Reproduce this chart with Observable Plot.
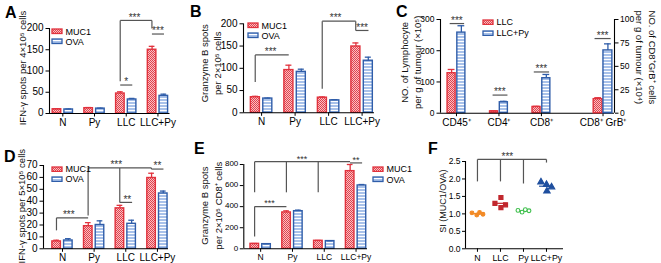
<!DOCTYPE html>
<html><head><meta charset="utf-8">
<script src="https://cdn.jsdelivr.net/npm/d3@7"></script>
<script src="https://cdn.jsdelivr.net/npm/@observablehq/plot@0.6"></script>
<style>
html,body{margin:0;padding:0;background:#fff;}
#fig{position:relative;width:661px;height:263px;overflow:hidden;background:#fff;font-family:"Liberation Sans",Arial,Helvetica,sans-serif;color:#000}
.letter{position:absolute;font-weight:bold;font-size:16px;line-height:1;z-index:10}
.legtxt{position:absolute;font-size:9px;line-height:1;white-space:nowrap;transform:translateY(-50%);z-index:10}
.legsw{position:absolute;z-index:10}
.ytick{position:absolute;line-height:1;white-space:nowrap;text-align:right;transform:translateY(-50%);color:#000;z-index:20;font-family:"Liberation Sans",Arial,Helvetica,sans-serif}
</style></head><body>
<svg width="0" height="0" style="position:absolute">
<defs>
<pattern id="patMUC1" patternUnits="userSpaceOnUse" width="2" height="2">
<rect width="2" height="2" fill="#f7c1c4"/>
<rect width="1" height="1" fill="#e3414c"/>
<rect x="1" y="1" width="1" height="1" fill="#e3414c"/>
</pattern>
<pattern id="patOVA" patternUnits="userSpaceOnUse" width="3" height="3">
<rect width="3" height="3" fill="#ffffff"/>
<rect width="3" height="2" fill="#a9c2ea"/>
</pattern>
</defs></svg>
<div id="fig"></div>
<script>
// ---------------- DATA ----------------
const groups = ["N", "Py", "LLC", "LLC+Py"];
const seriesMO = ["MUC1", "OVA"];
// Panel A: IFN-γ spots per 4×10^5 cells
const aMUC1 = [10, 12.5, 47, 150], aMUC1Err = [1, 1.5, 4, 8];
const aOVA = [9.5, 11.5, 33, 41.5], aOVAErr = [1, 1, 2.5, 4];
// Panel B: Granzyme B spots per 2×10^5 cells
const bMUC1 = [35, 96, 34, 149], bMUC1Err = [2, 11, 1.5, 8];
const bOVA = [32, 92, 28, 117], bOVAErr = [1, 6, 1.5, 8];
// Panel C: lymphocytes per g of tumour
const cSeries = ["LLC", "LLC+Py"];
const cCats = ["CD45⁺", "CD4⁺", "CD8⁺"];
const cLLC = [128, 6, 20], cLLCErr = [12, 1, 2];
const cLLCPy = [258, 35, 112], cLLCPyErr = [22, 3, 12];
const cGrBCat = "CD8⁺ GrB⁺";
const cGrB = [15, 67], cGrBErr = [1.5, 7];   // LLC, LLC+Py (right axis ×10^4)
// Panel D: IFN-γ spots per 5×10^5 cells
const dMUC1 = [6.2, 19, 34, 59.5], dMUC1Err = [1, 3, 2.5, 4];
const dOVA = [7, 20, 21, 46.5], dOVAErr = [1.5, 3.5, 3, 2];
// Panel E: Granzyme B spots per 2×10^5 CD8+ cells
const eMUC1 = [47, 345, 76, 737], eMUC1Err = [3, 15, 3, 63];
const eOVA = [44, 357, 73, 601], eOVAErr = [3, 10, 3, 9];
// Panel F: SI (MUC1/OVA)
const fGroups = ["N", "LLC", "Py", "LLC+Py"];
const fN = [1.03, 0.97, 1.04, 0.99];
const fLLC = [1.30, 1.47, 1.18, 1.26];
const fPy = [1.10, 1.05, 1.12, 1.09];
const fLLCPy = [1.91, 1.84, 1.65, 1.77];
const fJitter = [[-0.24, -0.03, 0.09, 0.24], [-0.24, 0.02, 0.02, 0.22], [-0.24, -0.06, 0.08, 0.24], [-0.24, 0.0, 0.02, 0.22]];
// significance annotations: [x1, y1, x2, y2] in data units, stars {x, y, t}
const aSegs = [[1.81,67,2.19,67],[1.81,76,1.81,219],[1.81,219,2.81,219],[2.81,219,2.81,200],[2.81,187,3.19,187]];
const aStars = [{x:2.0,y:67,t:"*"},{x:2.26,y:219,t:"***"},{x:3.0,y:187,t:"***"}];
const bSegs = [[-0.19,130,0.81,130],[-0.19,130,-0.19,69],[1.81,206,2.81,206],[1.81,206,1.81,54],[2.81,206,2.81,185],[2.81,185,3.19,185]];
const bStars = [{x:0.27,y:130,t:"***"},{x:2.21,y:206,t:"***"},{x:3.0,y:185,t:"***"}];
const cSegs = [[-0.16,287,0.18,287],[0.85,58,1.2,58],[1.82,132,2.18,132],[3.25,239,3.63,239]];
const cStars = [{x:0.01,y:287,t:"***"},{x:1.02,y:58,t:"***"},{x:2.0,y:132,t:"***"},{x:3.44,y:239,t:"***"}];
const dSegs = [[-0.19,26,0.81,26],[-0.19,26,-0.19,15.5],[0.81,68,2.81,68],[0.81,68,0.81,28],[1.81,68,1.81,39],[1.81,39,2.2,39],[2.81,68,2.81,67],[2.81,67,3.19,67]];
const dStars = [{x:0.2,y:26,t:"***"},{x:1.7,y:68,t:"***"},{x:2.05,y:39,t:"**"},{x:3.0,y:67,t:"**"}];
const eSegs = [[-0.19,827,2.81,827],[-0.19,827,-0.19,536],[0.81,827,0.81,536],[1.81,827,1.81,536],[2.81,815,3.19,815],[-0.19,401,0.81,401],[-0.19,401,-0.19,117]];
const eStars = [{x:1.3,y:827,t:"***"},{x:3.0,y:815,t:"**"},{x:0.28,y:401,t:"***"}];
const fSegs = [[0,2.56,3,2.56],[0,2.56,0,1.93],[1,2.56,1,1.93],[2,2.56,2,1.87],[3,2.56,3,2.47]];
const fStars = [{x:1.3,y:2.56,t:"***"}];

// ---------------- STYLE ----------------
const W = 661, H = 263;
const FONT = '"Liberation Sans", Arial, Helvetica, sans-serif';
const RED = "#e1323d", BLUE = "#2f5da9", GRAY = "#555";
const STY = {
  MUC1: {fill: "url(#patMUC1)", stroke: RED}, OVA: {fill: "url(#patOVA)", stroke: BLUE},
  "LLC": {fill: "url(#patMUC1)", stroke: RED}, "LLC+Py": {fill: "url(#patOVA)", stroke: BLUE}
};
const fig = document.getElementById("fig");

function mount(svg) {
  svg.style.position = "absolute"; svg.style.left = "0px"; svg.style.top = "0px";
  fig.appendChild(svg);
}
function makePlot({frame, xDomain, yDomain, fontSize, marks, xAxisNull}) {
  const [L, R, T, B] = frame;
  const svg = Plot.plot({
    width: W, height: H,
    marginLeft: L, marginRight: W - R, marginTop: T, marginBottom: H - B,
    x: {type: "linear", domain: xDomain, label: null, axis: xAxisNull ? null : undefined},
    y: {type: "linear", domain: yDomain, label: null},
    style: {fontFamily: FONT, fontSize: fontSize + "px", background: "transparent", overflow: "visible", color: "#000"},
    marks
  });
  mount(svg);
  return svg;
}
// y tick labels placed with the plot's own y scale (HTML text)
function yTickLabels(svg, ticks, fmt, fontSize, gap) {
  const sy = svg.scale("y"), sx = svg.scale("x");
  const toPx = v => (typeof sy.apply === "function") ? sy.apply(v)
    : sy.range[0] + (v - sy.domain[0]) / (sy.domain[1] - sy.domain[0]) * (sy.range[1] - sy.range[0]);
  const left = Math.min(...sx.range);
  ticks.forEach(t => {
    const d = document.createElement("div");
    d.className = "ytick"; d.textContent = fmt(t);
    d.style.fontSize = fontSize + "px";
    d.style.right = (W - (left - gap)) + "px";
    d.style.top = (toPx(t) + 0.3) + "px";
    fig.appendChild(d);
  });
}
function rows(pos, vals, errs, s) { return vals.map((v, k) => ({p: pos[k], v, e: errs[k], s})); }
function barMarks(data, off, capW = 0.09) {
  const s = data[0].s, st = STY[s];
  const xc = d => d.p + (off[0] + off[1]) / 2;
  return [
    Plot.rect(data, {x1: d => d.p + off[0], x2: d => d.p + off[1], y1: 0, y2: "v", fill: st.fill, stroke: st.stroke, strokeWidth: 1.4}),
    Plot.ruleX(data, {x: xc, y1: "v", y2: d => d.v + d.e, stroke: st.stroke, strokeWidth: 1.3}),
    Plot.ruleY(data, {y: d => d.v + d.e, x1: d => xc(d) - capW, x2: d => xc(d) + capW, stroke: st.stroke, strokeWidth: 1.3})
  ];
}
function axisMarks({xDomain, yDomain, pos, labels, yTicks, xFont, tickSize = 3.5}) {
  return [
    Plot.axisY({anchor: "left", ticks: yTicks, tickFormat: () => "", tickSize, tickPadding: 0, label: null}),
    Plot.axisX({ticks: pos, tickFormat: d => labels[pos.indexOf(d)], tickSize: 3.5, tickPadding: 2, fontSize: xFont, label: null}),
    Plot.ruleX([xDomain[0]], {stroke: "#000", strokeWidth: 1.1}),
    Plot.ruleY([yDomain[0]], {stroke: "#000", strokeWidth: 1.1})
  ];
}
function sigMarks(segs, stars, fontSize = 10) {
  return [
    Plot.link(segs, {x1: d => d[0], y1: d => d[1], x2: d => d[2], y2: d => d[3], stroke: GRAY, strokeWidth: 1.2}),
    Plot.text(stars, {x: "x", y: "y", text: "t", dy: -3, fontSize, fill: "#333"})
  ];
}
function titleMark(t, {dx, dy, fontSize = 9.5, rotate = -90, anchor = "left", lineHeight = 1.4}) {
  return Plot.text([t], {frameAnchor: anchor, textAnchor: "middle", lineAnchor: "middle", text: d => d, rotate, dx, dy, fontSize, lineHeight, fill: "#111"});
}
function legend(items, x, y0, gap, w = 10, h = 4.5) {
  items.forEach((it, k) => {
    const top = y0 + k * gap;
    const sw = document.createElementNS("http://www.w3.org/2000/svg", "svg");
    sw.setAttribute("width", w + 2); sw.setAttribute("height", h + 2);
    sw.setAttribute("class", "legsw");
    sw.style.left = (x - 1) + "px"; sw.style.top = (top - 1) + "px";
    sw.innerHTML = `<rect x="1" y="1" width="${w}" height="${h}" fill="${STY[it].fill}" stroke="${STY[it].stroke}" stroke-width="1.3"/>`;
    fig.appendChild(sw);
    const t = document.createElement("div");
    t.className = "legtxt"; t.textContent = it;
    t.style.left = (x + w + 3.5) + "px"; t.style.top = (top + h / 2 + 0.5) + "px";
    fig.appendChild(t);
  });
}
function letter(t, x, y) {
  const d = document.createElement("div"); d.className = "letter"; d.textContent = t;
  d.style.left = x + "px"; d.style.top = y + "px"; fig.appendChild(d);
}
const idx = groups.map((_, k) => k);
const OFF_M = [-0.32, -0.05], OFF_O = [0.05, 0.32];
const fmtInt = d3.format("d"), fmt1 = d3.format(".1f");

// ---------------- PANEL A ----------------
{
  const xDomain = [-0.42, 3.38], yDomain = [0, 200], yTicks = [0, 50, 100, 150, 200];
  const svg = makePlot({frame: [49, 169.5, 28, 113], xDomain, yDomain, fontSize: 10, marks: [
    ...barMarks(rows(idx, aMUC1, aMUC1Err, "MUC1"), OFF_M),
    ...barMarks(rows(idx, aOVA, aOVAErr, "OVA"), OFF_O),
    ...axisMarks({xDomain, yDomain, pos: idx, labels: groups, yTicks, xFont: 10}),
    ...sigMarks(aSegs, aStars),
    titleMark("IFN-γ spots per 4×10⁵ cells", {dx: -28, dy: -3})
  ]});
  yTickLabels(svg, yTicks, fmtInt, 10, 5.5);
  legend(seriesMO, 52, 29.3, 9.8);
  letter("A", 5, 5);
}
// ---------------- PANEL B ----------------
{
  const xDomain = [-0.54, 3.37], yDomain = [0, 200], yTicks = [0, 50, 100, 150, 200];
  const svg = makePlot({frame: [243, 374, 23.3, 112.3], xDomain, yDomain, fontSize: 10, marks: [
    ...barMarks(rows(idx, bMUC1, bMUC1Err, "MUC1"), OFF_M),
    ...barMarks(rows(idx, bOVA, bOVAErr, "OVA"), OFF_O),
    ...axisMarks({xDomain, yDomain, pos: idx, labels: groups, yTicks, xFont: 10}),
    ...sigMarks(bSegs, bStars),
    titleMark("Granzyme B spots\nper 2×10⁵ cells", {dx: -33, dy: -5})
  ]});
  yTickLabels(svg, yTicks, fmtInt, 10, 5.5);
  legend(seriesMO, 248, 23.3, 10);
  letter("B", 190, 4);
}
// ---------------- PANEL C ----------------
{
  const xDomain = [-0.376, 3.72], yTicks = [0, 100, 200, 300];
  const cPos = [0, 1, 2], grbPos = [3.45];
  const allPos = [...cPos, ...grbPos], allLabels = [...cCats, cGrBCat];
  const offL = [-0.21, -0.02], offP = [0.02, 0.21];
  const svg = makePlot({frame: [440, 614, 19, 112.7], xDomain, yDomain: [0, 300], fontSize: 9, marks: [
    ...barMarks(rows(cPos, cLLC, cLLCErr, "LLC"), offL, 0.08),
    ...barMarks(rows(cPos, cLLCPy, cLLCPyErr, "LLC+Py"), offP, 0.08),
    ...axisMarks({xDomain, yDomain: [0, 300], pos: allPos, labels: allLabels, yTicks, xFont: 10}),
    ...sigMarks(cSegs, cStars),
    titleMark("NO. of Lymphocyte\nper g of tumour (×10⁵)", {dx: -30, dy: -4, lineHeight: 1.35})
  ]});
  yTickLabels(svg, yTicks, fmtInt, 8.5, 5.5);
  makePlot({frame: [440, 614, 19, 112.7], xDomain, yDomain: [0, 100], fontSize: 9, xAxisNull: true, marks: [
    ...barMarks(rows(grbPos, [cGrB[0]], [cGrBErr[0]], "LLC"), [-0.22, -0.01], 0.08),
    ...barMarks(rows(grbPos, [cGrB[1]], [cGrBErr[1]], "LLC+Py"), [0.01, 0.22], 0.08),
    Plot.axisY({anchor: "right", ticks: [0, 25, 50, 75, 100], tickSize: 3.5, tickPadding: 2, fontSize: 8.5, label: null}),
    Plot.ruleX([xDomain[1]], {stroke: "#000", strokeWidth: 1.1}),
    titleMark("NO. of CD8⁺GrB⁺ cells\nper g of tumour (×10⁴)", {anchor: "right", rotate: 90, dx: 32, dy: -9, lineHeight: 1.35})
  ]});
  legend(cSeries, 483, 19.5, 11);
  letter("C", 396, 4);
}
// ---------------- PANEL D ----------------
{
  const xDomain = [-0.6, 3.35], yDomain = [0, 70], yTicks = d3.range(0, 71, 10);
  const svg = makePlot({frame: [43, 168, 165, 248.3], xDomain, yDomain, fontSize: 10, marks: [
    ...barMarks(rows(idx, dMUC1, dMUC1Err, "MUC1"), OFF_M),
    ...barMarks(rows(idx, dOVA, dOVAErr, "OVA"), OFF_O),
    ...axisMarks({xDomain, yDomain, pos: idx, labels: groups, yTicks, xFont: 10}),
    ...sigMarks(dSegs, dStars),
    titleMark("IFN-γ spots per 5×10⁵ cells", {dx: -23, dy: -1})
  ]});
  yTickLabels(svg, yTicks, fmtInt, 10, 5.5);
  legend(seriesMO, 52, 166.5, 10);
  letter("D", 4, 149);
}
// ---------------- PANEL E ----------------
{
  const xDomain = [-0.53, 3.36], yDomain = [0, 800], yTicks = [0, 200, 400, 600, 800];
  const svg = makePlot({frame: [243.3, 367, 164, 248.3], xDomain, yDomain, fontSize: 8, marks: [
    ...barMarks(rows(idx, eMUC1, eMUC1Err, "MUC1"), OFF_M),
    ...barMarks(rows(idx, eOVA, eOVAErr, "OVA"), OFF_O),
    ...axisMarks({xDomain, yDomain, pos: idx, labels: groups, yTicks, xFont: 8.5}),
    ...sigMarks(eSegs, eStars, 9),
    titleMark("Granzyme B spots\nper 2×10⁵ CD8⁺ cells", {dx: -33, dy: -1})
  ]});
  yTickLabels(svg, yTicks, fmtInt, 8, 5);
  legend(seriesMO, 373, 166.7, 10.6);
  letter("E", 194, 141);
}
// ---------------- PANEL F ----------------
{
  const xDomain = [-0.52, 3.74], yDomain = [0, 2.5], yTicks = [0, 0.5, 1, 1.5, 2, 2.5];
  const fVals = [fN, fLLC, fPy, fLLCPy];
  const fSty = [
    {symbol: "circle", fill: "#f28a26", stroke: "#f28a26", r: 1.9},
    {symbol: "square", fill: "#c1272d", stroke: "#c1272d", r: 2.3},
    {symbol: "circle", fill: "white", stroke: "#3dbf4b", r: 1.9},
    {symbol: "triangle", fill: "#1f4f9e", stroke: "#1f4f9e", r: 2.4}
  ];
  const dotMarks = fVals.flatMap((vals, g) => {
    const pts = vals.map((v, k) => ({x: g + fJitter[g][k], v}));
    const m = d3.mean(vals);
    return [
      Plot.ruleY([m], {x1: g - 0.3, x2: g + 0.3, stroke: fSty[g].stroke, strokeWidth: 1.2}),
      Plot.dot(pts, {x: "x", y: "v", symbol: fSty[g].symbol, fill: fSty[g].fill, stroke: fSty[g].stroke, strokeWidth: 1.1, r: fSty[g].r})
    ];
  });
  const svg = makePlot({frame: [465, 563, 161, 248.3], xDomain, yDomain, fontSize: 8.5, marks: [
    ...dotMarks,
    ...sigMarks(fSegs, fStars),
    ...axisMarks({xDomain, yDomain, pos: [0, 1, 2, 3], labels: fGroups, yTicks, xFont: 8.8, tickSize: 3}),
    titleMark("SI (MUC1/OVA)", {dx: -23.5, dy: -4, fontSize: 9})
  ]});
  yTickLabels(svg, yTicks, fmt1, 8.5, 4.5);
  letter("F", 428, 141);
}
</script>
</body></html>
